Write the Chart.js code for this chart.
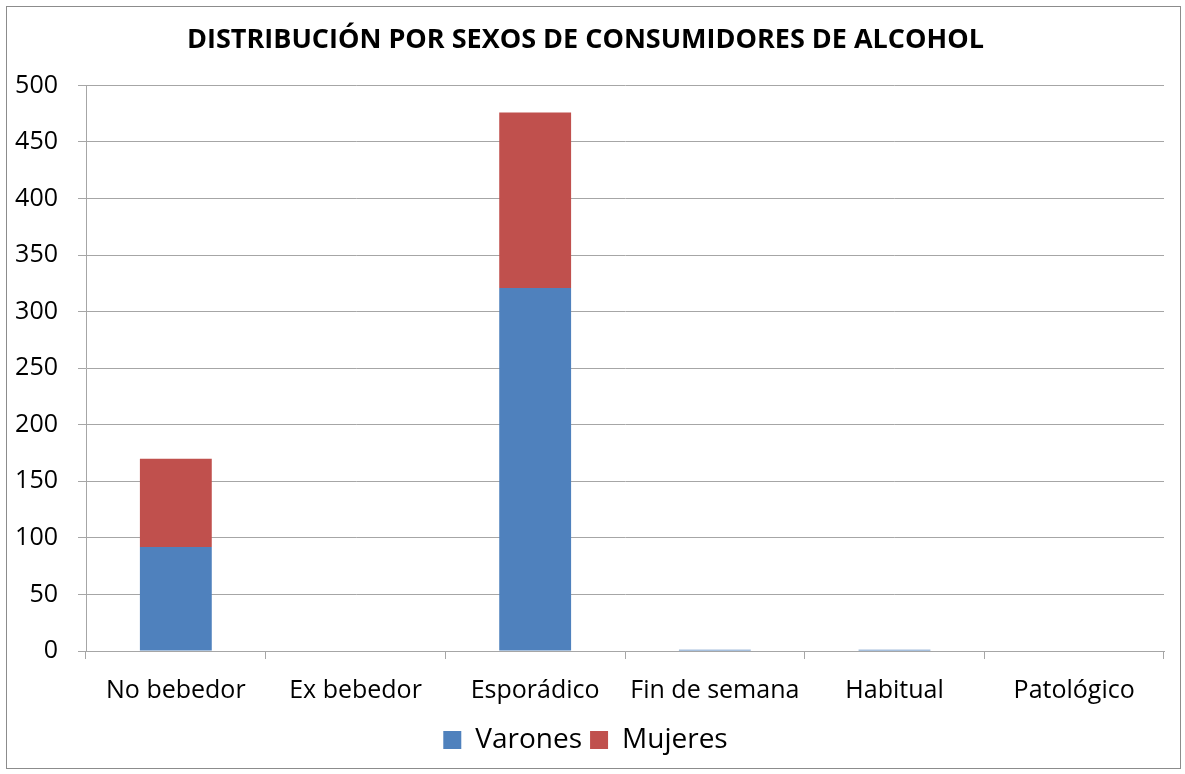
<!DOCTYPE html>
<html>
<head>
<meta charset="utf-8">
<script src="https://cdn.jsdelivr.net/npm/chart.js@4/dist/chart.umd.min.js"></script>
<style>
  html, body { margin: 0; padding: 0; background: #fff; }
  #frame {
    position: absolute; left: 6px; top: 6px;
    width: 1175px; height: 763px;
    border: 1px solid #8c8c8c; box-sizing: border-box;
  }
  canvas { display: block; }
</style>
</head>
<body>
<div id="frame"><canvas id="chart" width="1173" height="761"></canvas></div>
<script>
const categories = ['No bebedor', 'Ex bebedor', 'Esporádico', 'Fin de semana', 'Habitual', 'Patológico'];
const varones = [92, 0, 321, 1, 1, 0];
const mujeres = [78, 0, 155, 0, 0, 0];
const yTicks = [0, 50, 100, 150, 200, 250, 300, 350, 400, 450, 500];

const font = "'Open Sans', 'Noto Sans', sans-serif";
const gridColor = '#a6a6a6';

const ctx = document.getElementById('chart').getContext('2d');
new Chart(ctx, {
  type: 'bar',
  data: {
    labels: categories,
    datasets: [
      { label: 'Varones', data: varones, backgroundColor: '#4f81bd', categoryPercentage: 1, barPercentage: 0.4 },
      { label: 'Mujeres', data: mujeres, backgroundColor: '#c0504d', categoryPercentage: 1, barPercentage: 0.4 },
    ],
  },
  options: {
    responsive: false,
    animation: false,
    layout: { padding: { left: 0, right: 16, top: 0, bottom: 4 } },
    plugins: {
      title: {
        display: true,
        text: 'DISTRIBUCIÓN POR SEXOS DE CONSUMIDORES DE ALCOHOL',
        color: '#000',
        font: { family: font, size: 27, weight: 'bold' },
        padding: { top: 17, bottom: 29 },
      },
      legend: {
        position: 'bottom',
        labels: {
          color: '#000',
          font: { family: font, size: 28 },
          boxWidth: 18,
          boxHeight: 18,
          padding: 8,
        },
      },
      tooltip: { enabled: false },
    },
    scales: {
      x: {
        stacked: true,
        offset: true,
        afterFit: (scale) => { scale.height = 67; },
        grid: {
          offset: true,
          drawOnChartArea: false,
          color: gridColor,
          tickLength: 8,
        },
        border: { color: gridColor },
        ticks: { color: '#000', font: { family: font, size: 25 }, padding: 17, maxRotation: 0 },
      },
      y: {
        stacked: true,
        min: 0,
        max: 500,
        afterBuildTicks: (axis) => { axis.ticks = yTicks.map((v) => ({ value: v })); },
        afterFit: (scale) => { scale.width = 79; },
        grid: { color: gridColor, tickLength: 8 },
        border: { color: gridColor },
        ticks: { color: '#000', font: { family: font, size: 25 }, padding: 20 },
      },
    },
  },
});
</script>
</body>
</html>
